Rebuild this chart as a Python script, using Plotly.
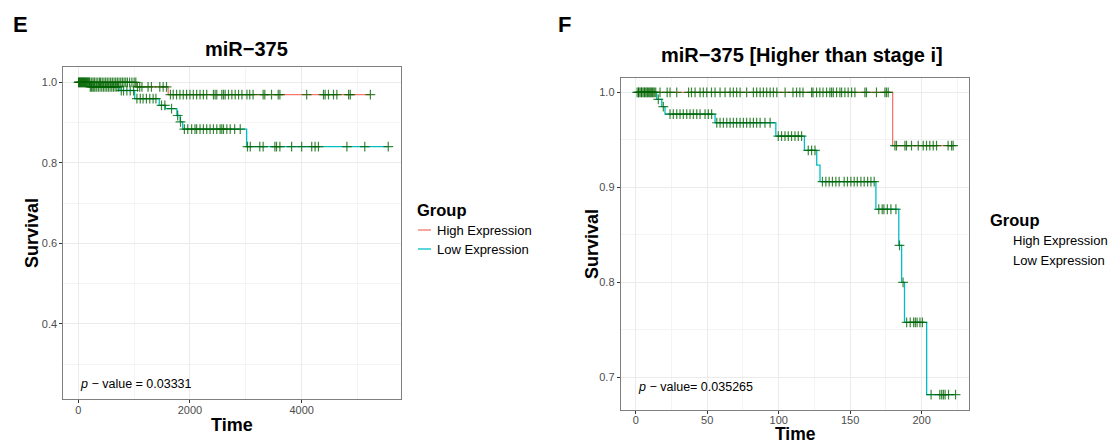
import numpy as np
import plotly.graph_objects as go

# ---------------- Panel E data: miR-375 ----------------
e_high_times = [0, 1040, 1610]
e_high_surv = [1.0, 0.989, 0.970]
e_high_end = 5230
e_high_censor = [5, 20, 40, 60, 80, 100, 120, 140, 165, 190, 210, 240, 265, 290, 320, 350,
                 380, 400, 430, 460, 490, 520, 550, 580, 610, 640, 670, 700, 730, 760, 790,
                 820, 850, 880, 920, 960, 1000, 1030,
                 1060, 1100, 1140, 1250, 1310, 1460, 1520, 1580,
                 1650, 1700, 1760, 1820, 1880, 1940, 2000, 2060, 2120, 2180, 2240, 2300,
                 2420, 2450, 2480, 2570, 2600, 2630, 2690, 2750, 2810, 2870, 2930, 3020,
                 3070, 3130, 3310, 3340, 3460, 3580, 3610, 4090, 4390, 4420, 4480, 4570,
                 4630, 4840, 4870, 5230]

e_low_times = [0, 205, 745, 1010, 1450, 1560, 1765, 1825, 1870, 3015]
e_low_surv = [1.0, 0.989, 0.980, 0.960, 0.943, 0.935, 0.918, 0.902, 0.884, 0.8405]
e_low_end = 5550
e_low_censor = [10, 30, 50, 70, 90, 110, 130, 150, 175, 195,
                215, 235, 260, 280, 300, 330, 360, 390, 420, 450, 480, 510, 540, 570, 600,
                630, 660, 690, 720,
                770, 810, 870, 930, 990,
                1050, 1110, 1160, 1220, 1280, 1340, 1390,
                1490, 1550, 1670, 1780, 1830,
                1900, 1960, 2030, 2090, 2120, 2180, 2240, 2300, 2360, 2420, 2480, 2540,
                2570, 2600, 2660, 2720, 2800, 2900,
                3030, 3080, 3250, 3310, 3520, 3550, 3610, 3820, 4000, 4180, 4240, 4300,
                4810, 5130, 5550]
e_pvalue = "0.03331"
e_xticks = [0, 2000, 4000]
e_yticks = [0.4, 0.6, 0.8, 1.0]

# ---------------- Panel F data: miR-375 [Higher than stage i] ----------------
f_high_times = [0, 179.7]
f_high_surv = [1.0, 0.944]
f_high_end = 222
f_high_censor = [1, 2, 3, 4, 5, 6, 7, 8, 9, 10, 11, 12, 13, 14, 17, 22, 24, 28.7, 37, 39,
                 41.5, 45, 47.3, 49.7, 53, 55.5, 59, 62.5, 66, 68.3, 70.6, 73, 77.6, 82.3,
                 84.6, 87, 89.3, 91.6, 94, 96.3, 98.7, 104.5, 110, 112.5, 114.8, 117, 123,
                 124, 126.5, 128.8, 131, 133.5, 135.8, 137, 138.2, 140.5, 142.8, 144,
                 146.3, 148.6, 151, 153.3, 160.3, 161.4, 168.4, 174.3, 175.4, 176.6,
                 181.3, 182.4, 188.3, 189.4, 192.9, 197.6, 201.1, 203.4, 205.7, 208.1,
                 210.4, 218.5, 220.9, 222]

f_low_times = [0, 14.7, 18.2, 20.5, 55.5, 98, 118, 126.6, 128.9, 168, 184.0, 186, 188, 203.5]
f_low_surv = [1.0, 0.9926, 0.985, 0.977, 0.968, 0.954, 0.939, 0.9235, 0.906, 0.877, 0.839,
              0.800, 0.758, 0.682]
f_low_end = 223.7
f_low_censor = [2, 4, 6, 8, 10, 12, 15.8, 19.3,
                24, 26.3, 28.7, 31, 33.3, 35.7, 38, 40.3, 42.7, 45, 48.5, 50.8, 53.1,
                56.7, 59, 61.3, 63.7, 66, 68.3, 70.6, 73, 75.3, 77.6, 80, 82.3, 84.6, 87,
                90.4, 94,
                99.7, 102, 104.4, 106.7, 109, 111.4, 113.7, 116,
                120.7, 123, 125.4,
                130.6, 133, 135.3, 137.6, 140, 142.3, 145.8, 148.1, 150.5, 152.8, 155,
                157.5, 159.8, 162.2, 164.5, 166.8,
                170, 172.4, 173.6, 176, 178.5, 182, 184.5, 187,
                189.5, 192, 194.4, 195.6, 196.8, 198.8, 200.5,
                206.6, 212.7, 214, 215.2, 216.4, 218.8, 223.7]
f_pvalue = "0.035265"
f_xticks = [0, 50, 100, 150, 200]
f_yticks = [0.7, 0.8, 0.9, 1.0]

groups = ["High Expression", "Low Expression"]
HIGH_COL = "#F8766D"
LOW_COL = "#00BFC4"
CENSOR_COL = "rgba(0,100,0,0.78)"

W, H = 1108, 444


def step_at(times, surv, t):
    idx = np.searchsorted(np.asarray(times), np.asarray(t), side="right") - 1
    return np.asarray(surv)[idx]


def px(x):
    return x / W


def py(y):
    return 1 - y / H


fig = go.Figure()


def add_panel(xa, ya, high, low):
    for (times, surv, end, cens, col, name) in (high, low):
        fig.add_trace(go.Scatter(
            x=list(times) + [end], y=list(surv) + [surv[-1]],
            mode="lines", line=dict(color=col, width=1.3, shape="hv"),
            name=name, showlegend=False, xaxis=xa, yaxis=ya, hoverinfo="skip"))
    for (times, surv, end, cens, col, name) in (high, low):
        fig.add_trace(go.Scatter(
            x=cens, y=step_at(times, surv, cens), mode="markers",
            marker=dict(symbol="cross-thin", size=7,
                        line=dict(color=CENSOR_COL, width=1.2)),
            showlegend=False, xaxis=xa, yaxis=ya, hoverinfo="skip"))


add_panel("x", "y",
          (e_high_times, e_high_surv, e_high_end, e_high_censor, HIGH_COL, groups[0]),
          (e_low_times, e_low_surv, e_low_end, e_low_censor, LOW_COL, groups[1]))
add_panel("x2", "y2",
          (f_high_times, f_high_surv, f_high_end, f_high_censor, HIGH_COL, groups[0]),
          (f_low_times, f_low_surv, f_low_end, f_low_censor, LOW_COL, groups[1]))

grid_major = "#EBEBEB"
axis_common = dict(showgrid=True, gridcolor=grid_major, gridwidth=1, zeroline=False,
                   ticks="outside", ticklen=3, tickcolor="#333333", tickwidth=1,
                   showline=True, linecolor="#7F7F7F", linewidth=1, mirror=True,
                   tickfont=dict(family="Liberation Sans, Arial", size=11, color="#4D4D4D"))

fig.update_layout(
    width=W, height=H, autosize=False,
    margin=dict(l=0, r=0, t=0, b=0),
    paper_bgcolor="white", plot_bgcolor="white",
    showlegend=False,
    xaxis=dict(domain=[px(63.3), px(400.7)], range=[-268, 5773],
               tickvals=e_xticks, ticktext=[str(v) for v in e_xticks],
               ticklabelstandoff=-3,
               minor=dict(dtick=1000, tick0=0, showgrid=True, gridcolor="#F4F4F4",
                          gridwidth=1, ticks=""),
               anchor="y", **axis_common),
    yaxis=dict(domain=[py(399.3), py(67.3)], range=[0.2128, 1.0377],
               tickvals=e_yticks, ticktext=["0.4", "0.6", "0.8", "1.0"],
               minor=dict(dtick=0.1, tick0=0, showgrid=True, gridcolor="#F4F4F4",
                          gridwidth=1, ticks=""),
               anchor="x", **axis_common),
    xaxis2=dict(domain=[px(620.7), px(968.7)], range=[-10.5, 232.9],
                tickvals=f_xticks, ticktext=[str(v) for v in f_xticks],
                ticklabelstandoff=-3,
                minor=dict(dtick=25, tick0=0, showgrid=True, gridcolor="#F4F4F4",
                           gridwidth=1, ticks=""),
                anchor="y2", **axis_common),
    yaxis2=dict(domain=[py(410), py(77.7)], range=[0.6658, 1.0154],
                tickvals=f_yticks, ticktext=["0.7", "0.8", "0.9", "1.0"],
                minor=dict(dtick=0.05, tick0=0, showgrid=True, gridcolor="#F4F4F4",
                           gridwidth=1, ticks=""),
                anchor="x2", **axis_common),
)

FONT = "Liberation Sans, Arial, sans-serif"
anns = []


def txt(x, y, s, size, bold=False, xanchor="center", yanchor="middle", angle=0,
        color="black"):
    anns.append(dict(x=px(x), y=py(y), xref="paper", yref="paper", text=s,
                     showarrow=False, xanchor=xanchor, yanchor=yanchor, textangle=angle,
                     font=dict(family=FONT, size=size, color=color,
                               weight="bold" if bold else "normal")))


# panel letters
txt(20, 25, "E", 22, bold=True)
txt(564, 24, "F", 22, bold=True)
# titles
txt(246, 49, "miR\u2212375", 20, bold=True)
txt(802, 55, "miR\u2212375 [Higher than stage i]", 20, bold=True)
# axis titles
txt(232, 425, "Time", 18, bold=True)
txt(32, 233, "Survival", 18, bold=True, angle=-90)
txt(795, 433.5, "Time", 17.5, bold=True)
txt(592, 244, "Survival", 18, bold=True, angle=-90)
# p-values (placed in data coordinates)
anns.append(dict(x=0, y=0.25, xref="x", yref="y", showarrow=False, xanchor="left",
                 yanchor="middle",
                 text="<i>p</i> \u2212 value = " + e_pvalue,
                 font=dict(family=FONT, size=12.5, color="black")))
anns.append(dict(x=0, y=0.69, xref="x2", yref="y2", showarrow=False, xanchor="left",
                 yanchor="middle",
                 text="<i>p</i> \u2212 value= " + f_pvalue,
                 font=dict(family=FONT, size=12.5, color="black")))
# legends
txt(415, 210, "Group", 16.5, bold=True, xanchor="left")
txt(435, 230, groups[0], 13, xanchor="left")
txt(435, 249, groups[1], 13, xanchor="left")
txt(988, 220, "Group", 16.5, bold=True, xanchor="left")
txt(1011, 240, groups[0], 13, xanchor="left")
txt(1011, 260, groups[1], 13, xanchor="left")

fig.update_layout(annotations=anns)

shapes = []
for yy, col in ((230, HIGH_COL), (249, LOW_COL)):
    shapes.append(dict(type="line", xref="paper", yref="paper",
                       x0=px(418), x1=px(431), y0=py(yy), y1=py(yy),
                       line=dict(color=col, width=1.3)))
fig.update_layout(shapes=shapes)

fig.write_html("out.html",
               config={"displayModeBar": False, "staticPlot": True},
               post_script="document.body.style.margin='0';"
                           "document.body.style.overflow='hidden';")
